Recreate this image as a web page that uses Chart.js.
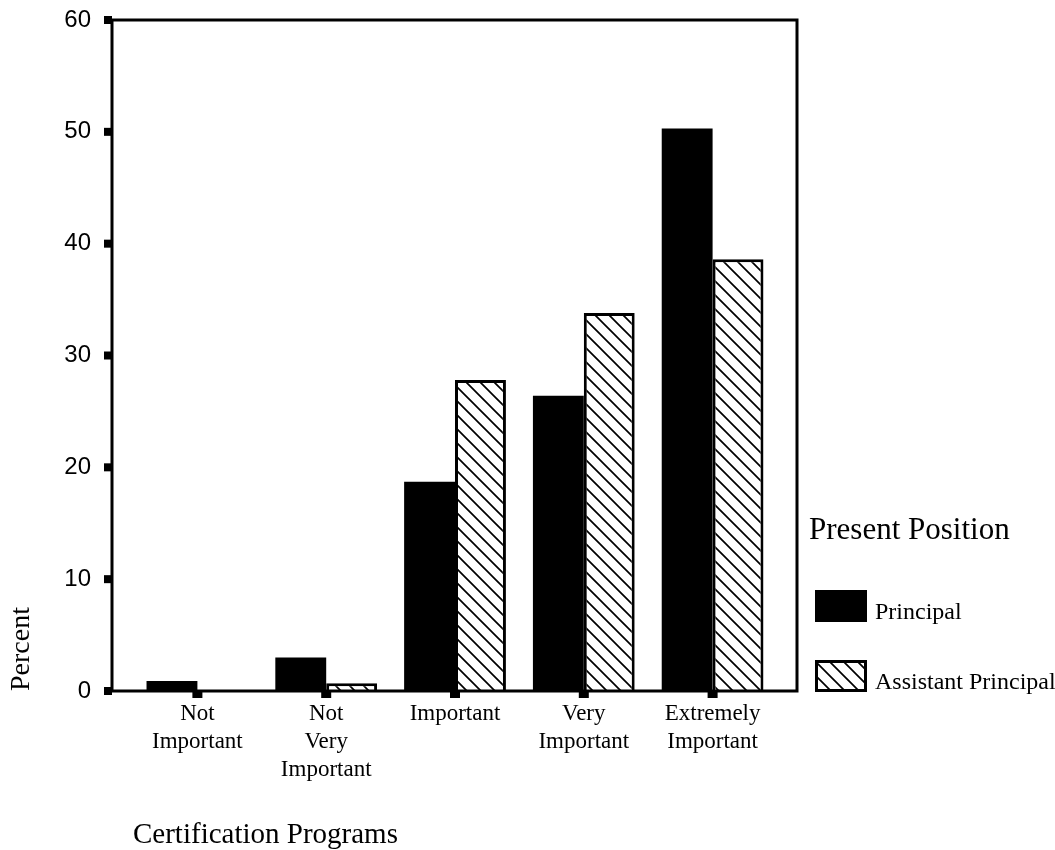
<!DOCTYPE html>
<html>
<head>
<meta charset="utf-8">
<script src="https://cdn.jsdelivr.net/npm/chart.js@4.4.1/dist/chart.umd.min.js"></script>
<style>
  body { margin: 0; background: #fff; }
  #wrap { width: 1055px; height: 850px; }
</style>
</head>
<body>
<div id="wrap"><canvas id="certChart" width="1055" height="850"></canvas></div>
<script>
// Data
const categories = [
  ["Not", "Important"],
  ["Not", "Very", "Important"],
  ["Important"],
  ["Very", "Important"],
  ["Extremely", "Important"]
];
const principal = [0.9, 3.0, 18.7, 26.4, 50.3];
const assistantPrincipal = [0, 0.7, 27.8, 33.8, 38.6];
const seriesNames = ["Principal", "Assistant Principal"];
const yMin = 0, yMax = 60, yStep = 10;

// diagonal hatch fill for the assistant principal bars
function makeHatch() {
  const s = 14;
  const c = document.createElement('canvas');
  c.width = s; c.height = s;
  const g = c.getContext('2d');
  g.fillStyle = '#fff';
  g.fillRect(0, 0, s, s);
  g.strokeStyle = '#000';
  g.lineWidth = 1.7;
  g.beginPath();
  g.moveTo(-1, -1); g.lineTo(s + 1, s + 1);
  g.moveTo(s - 2, -2); g.lineTo(s + 2, 2);
  g.moveTo(-2, s - 2); g.lineTo(2, s + 2);
  g.stroke();
  return g.createPattern(c, 'repeat');
}

const ctx = document.getElementById('certChart').getContext('2d');
const hatch = makeHatch();

// frame, tick squares and legend are drawn by hand, like the SPSS output
const framePlugin = {
  id: 'frame',
  afterDraw(chart) {
    const { ctx, chartArea: a, scales } = chart;
    const left = a.left - 21, right = a.right + 20;
    ctx.save();
    ctx.strokeStyle = '#000';
    ctx.lineWidth = 3;
    ctx.beginPath();
    ctx.moveTo(left, a.bottom);
    ctx.lineTo(left, a.top);
    ctx.lineTo(right, a.top);
    ctx.lineTo(right, a.bottom);
    ctx.lineTo(left, a.bottom);
    ctx.stroke();
    ctx.fillStyle = '#000';
    scales.y.ticks.forEach(t => {
      const y = scales.y.getPixelForValue(t.value);
      ctx.fillRect(left - 8, y - 4, 8, 8);
    });
    categories.forEach((c, i) => {
      const x = scales.x.getPixelForValue(i);
      ctx.fillRect(x - 5, a.bottom, 10, 7);
    });

    // legend
    ctx.textAlign = 'left';
    ctx.textBaseline = 'alphabetic';
    ctx.font = '31px "Liberation Serif"';
    ctx.fillText('Present Position', 809, 539);
    ctx.font = '24px "Liberation Serif"';
    const rows = [590, 660];
    chart.data.datasets.forEach((ds, i) => {
      const y = rows[i];
      ctx.fillStyle = ds.backgroundColor;
      ctx.fillRect(815, y, 52, 32);
      if (ds.borderWidth) {
        ctx.lineWidth = 3;
        ctx.strokeStyle = '#000';
        ctx.strokeRect(816.5, y + 1.5, 49, 29);
      }
      ctx.fillStyle = '#000';
      ctx.fillText(ds.label, 875, y + 29);
    });
    ctx.restore();
  }
};

new Chart(ctx, {
  type: 'bar',
  data: {
    labels: categories,
    datasets: [
      {
        label: seriesNames[0],
        data: principal,
        backgroundColor: '#000',
        borderWidth: 0
      },
      {
        label: seriesNames[1],
        data: assistantPrincipal,
        backgroundColor: hatch,
        borderColor: '#000',
        borderWidth: 3
      }
    ]
  },
  options: {
    responsive: false,
    animation: false,
    layout: { padding: { left: 0, right: 278, top: 20, bottom: 0 } },
    barPercentage: 1,
    categoryPercentage: 0.79,
    plugins: {
      legend: { display: false },
      tooltip: { enabled: false }
    },
    scales: {
      x: {
        grid: { display: false },
        border: { display: false },
        afterFit: (scale) => { scale.height = 159; },
        ticks: {
          color: '#000',
          maxRotation: 0,
          autoSkip: false,
          padding: 1,
          font: { family: 'Liberation Serif', size: 23, lineHeight: 1.22 }
        },
        title: {
          display: true,
          text: 'Certification Programs',
          align: 'start',
          color: '#000',
          padding: { top: 0, bottom: 0 },
          font: { family: 'Liberation Serif', size: 29, lineHeight: 1.0 }
        }
      },
      y: {
        min: yMin,
        max: yMax,
        grid: { display: false },
        border: { display: false },
        afterFit: (scale) => {
          scale.width = 133;
          scale.paddingTop = 0;
          scale.paddingBottom = 0;
        },
        ticks: {
          stepSize: yStep,
          color: '#000',
          padding: 34,
          font: { family: 'Liberation Sans', size: 24 }
        },
        title: {
          display: true,
          text: 'Percent',
          align: 'start',
          color: '#000',
          padding: { top: 5, bottom: 0 },
          font: { family: 'Liberation Serif', size: 28 }
        }
      }
    }
  },
  plugins: [framePlugin]
});
</script>
</body>
</html>
